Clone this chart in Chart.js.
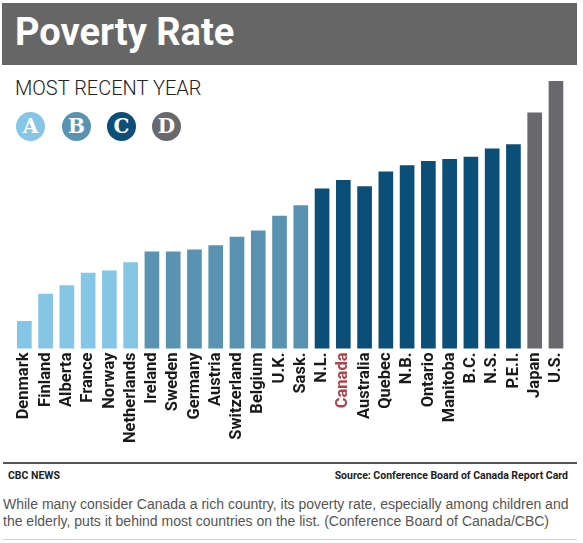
<!DOCTYPE html>
<html>
<head>
<meta charset="utf-8">
<script src="https://cdn.jsdelivr.net/npm/chart.js@4/dist/chart.umd.min.js"></script>
<style>
  html,body{margin:0;padding:0;background:#fff;}
  body{width:583px;height:543px;position:relative;overflow:hidden;font-family:Roboto,"Liberation Sans",sans-serif;}
  #band{position:absolute;left:2px;top:3px;width:575px;height:62px;background:#666666;}
  #title{position:absolute;left:15px;top:9px;font:700 38px Roboto,sans-serif;color:#fff;line-height:46px;letter-spacing:0px;}
  #sub{position:absolute;left:15px;top:76px;font:300 20px Roboto,sans-serif;color:#222;line-height:24px;}
  .dot{position:absolute;top:112px;width:29px;height:29px;border-radius:50%;color:#fff;font:700 20px "DejaVu Serif",serif;text-align:center;line-height:29px;}
  #chartwrap{position:absolute;left:0;top:70px;width:583px;height:390px;}
  #rule{position:absolute;left:3px;top:462px;width:574px;height:2px;background:#555;}
  #cbc{position:absolute;left:8px;top:469px;font:700 10.5px Roboto,sans-serif;color:#222;}
  #src{position:absolute;right:15px;top:469px;font:700 10.5px Roboto,sans-serif;color:#222;}
  #cap{position:absolute;left:3px;top:496px;width:580px;font:14px "Liberation Sans",Arial,sans-serif;color:#555;line-height:17px;white-space:nowrap;}
  #rule2{position:absolute;left:3px;top:539px;width:574px;height:1px;background:#d0d0d0;}
</style>
</head>
<body>
<div id="band"></div>
<div id="title">Poverty Rate</div>
<div id="sub">MOST RECENT YEAR</div>
<div id="dots"></div>
<div id="chartwrap"><canvas id="c" width="583" height="390"></canvas></div>
<div id="rule"></div>
<div id="cbc">CBC NEWS</div>
<div id="src">Source: Conference Board of Canada Report Card</div>
<div id="cap">While many consider Canada a rich country, its poverty rate, especially among children and<br>the elderly, puts it behind most countries on the list. (Conference Board of Canada/CBC)</div>
<div id="rule2"></div>
<script>
// Data
const categories = ["Denmark","Finland","Alberta","France","Norway","Netherlands","Ireland","Sweden","Germany","Austria","Switzerland","Belgium","U.K.","Sask.","N.L.","Canada","Australia","Quebec","N.B.","Ontario","Manitoba","B.C.","N.S.","P.E.I.","Japan","U.S."];
const povertyRate = [6.0,7.3,7.7,8.3,8.4,8.8,9.3,9.3,9.4,9.6,10.0,10.3,11.0,11.5,12.3,12.7,12.4,13.1,13.4,13.6,13.7,13.8,14.2,14.4,15.9,17.4];
const grades = ["A","A","A","A","A","A","B","B","B","B","B","B","B","B","C","C","C","C","C","C","C","C","C","C","D","D"];
const gradeLetters = ["A","B","C","D"];
const gradeColors = {A:"#85c6e6",B:"#5a93b1",C:"#0b4f79",D:"#69686c"};
const highlight = "Canada";

// Legend dots
const dotX = [16,62,107,152];
const dots = document.getElementById('dots');
gradeLetters.forEach((g,i)=>{
  const d=document.createElement('div');
  d.className='dot'; d.textContent=g;
  d.style.left=dotX[i]+'px'; d.style.background=gradeColors[g];
  dots.appendChild(d);
});

const plotBottom = 278.5; // within canvas
new Chart(document.getElementById('c'), {
  type:'bar',
  data:{
    labels:categories,
    datasets:[{
      data:povertyRate,
      backgroundColor:grades.map(g=>gradeColors[g]),
      borderWidth:0,
      barPercentage:0.69,
      categoryPercentage:1.0
    }]
  },
  options:{
    responsive:false,
    animation:false,
    layout:{padding:{top:11,left:13.7,right:16.4,bottom:0}},
    plugins:{legend:{display:false},tooltip:{enabled:false}},
    scales:{
      y:{display:false,min:4.7,max:17.4},
      x:{
        grid:{display:false,drawTicks:false},
        border:{display:false},
        ticks:{
          autoSkip:false,
          maxRotation:90,minRotation:90,
          padding:4,
          font:{family:'Roboto',weight:'bold',size:16.5},
          color:(ctx)=> categories[ctx.index]===highlight ? '#b0434a' : '#1a1a1a'
        },
        afterFit:(axis)=>{ axis.height = 390 - plotBottom; }
      }
    }
  }
});
</script>
</body>
</html>
